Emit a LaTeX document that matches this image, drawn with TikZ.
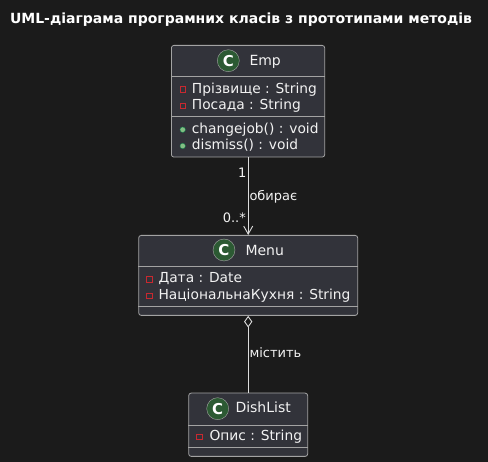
\documentclass[tikz,border=0pt]{standalone}
\usepackage{fontspec}
\setmainfont{DejaVu Sans}
\usetikzlibrary{arrows.meta}
\definecolor{bgc}{HTML}{1B1B1B}
\definecolor{boxfill}{HTML}{32333A}
\definecolor{boxline}{HTML}{A3A3A3}
\definecolor{txtc}{HTML}{F2F2F2}
\definecolor{linec}{HTML}{DDDDDD}
\definecolor{cgreen}{HTML}{2C5A33}
\definecolor{privred}{HTML}{C82930}
\definecolor{pubgreen}{HTML}{84BE84}
\definecolor{pubgreenline}{HTML}{038048}
\tikzset{
  classbox/.style={draw=boxline, fill=boxfill, rounded corners=2.5pt, line width=0.8pt, inner sep=0pt, anchor=north west},
  sepline/.style={draw=boxline, line width=0.8pt},
  txt/.style={text=txtc, inner sep=0pt, font=\fontsize{13.8}{16}\selectfont, anchor=base west},
  cname/.style={text=txtc, inner sep=0pt, font=\fontsize{14}{16}\selectfont, anchor=base west},
  lbl/.style={text=txtc, inner sep=0pt, font=\fontsize{13}{15}\selectfont},
  cicon/.style={circle, fill=cgreen, draw=boxline, line width=0.4pt, minimum size=22pt, inner sep=0pt, text=white, font=\fontsize{15}{15}\selectfont\bfseries},
  privicon/.style={rectangle, draw=privred, line width=0.8pt, minimum size=5.5pt, inner sep=0pt},
  pubicon/.style={circle, fill=pubgreen, draw=pubgreenline, line width=0.3pt, minimum size=5.5pt, inner sep=0pt},
  conn/.style={draw=linec, line width=0.9pt},
}
\begin{document}
\begin{tikzpicture}[x=1pt,y=-1pt]
\fill[bgc] (0,0) rectangle (488,462);
\useasboundingbox (0,0) rectangle (488,462);
% title
\node[text=white, inner sep=0pt, font=\fontsize{14}{16}\selectfont\bfseries, anchor=base] (title) at (241,23.3) {UML-діаграма програмних класів з прототипами методів};
% Emp
\node[classbox, minimum width=153.3pt, minimum height=111.7pt] (emp) at (171,45) {};
\draw[sepline] (emp.west |- 0,76) -- (emp.east |- 0,76);
\draw[sepline] (emp.west |- 0,116) -- (emp.east |- 0,116);
\node[cicon] (empc) at (228.3,60.7) {C};
\node[cname] (empn) at (249.3,66) {Emp};
\node[privicon] (empi1) at (182.7,89.3) {};
\node[txt] (empa1) at (191.7,93.5) {Прізвище : String};
\node[privicon] (empi2) at (182.7,105.8) {};
\node[txt] (empa2) at (191.7,110) {Посада : String};
\node[pubicon] (empi3) at (182.7,129.7) {};
\node[txt] (empm1) at (191.7,133.7) {changejob() : void};
\node[pubicon] (empi4) at (182.7,146) {};
\node[txt] (empm2) at (191.7,150) {dismiss() : void};
% Menu
\node[classbox, minimum width=219pt, minimum height=80pt] (menu) at (138.3,235) {};
\draw[sepline] (menu.west |- 0,266) -- (menu.east |- 0,266);
\draw[sepline] (menu.west |- 0,306.7) -- (menu.east |- 0,306.7);
\node[cicon] (menuc) at (224,250) {C};
\node[cname] (menun) at (245.3,255.3) {Menu};
\node[privicon] (menui1) at (149.3,279.3) {};
\node[txt] (menua1) at (158.3,283) {Дата : Date};
\node[privicon] (menui2) at (149.3,295.8) {};
\node[txt] (menua2) at (158.3,299.5) {НаціональнаКухня : String};
% DishList
\node[classbox, minimum width=119pt, minimum height=63.3pt] (dish) at (188.3,392.7) {};
\draw[sepline] (dish.west |- 0,425) -- (dish.east |- 0,425);
\draw[sepline] (dish.west |- 0,447.7) -- (dish.east |- 0,447.7);
\node[cicon] (dishc) at (217.7,408.7) {C};
\node[cname] (dishn) at (235.3,412.7) {DishList};
\node[privicon] (dishi1) at (199.3,436.8) {};
\node[txt] (disha1) at (209.3,440.7) {Опис : String};
% connectors
\draw[conn, -{Straight Barb[length=8pt,width=9pt]}] (emp.south -| menu.north) -- (menu.north);
\node[lbl, anchor=base east] (l1) at (246.7,178) {1};
\node[lbl, anchor=base west] (l2) at (249.3,201) {обирає};
\node[lbl, anchor=base east] (l3) at (246,222.7) {0..*};
\draw[conn, {Diamond[length=11.7pt,width=8.3pt,fill=bgc]}-] (menu.south) -- (dish.north);
\node[lbl, anchor=base west] (l4) at (249.3,357.3) {містить};
\end{tikzpicture}
\end{document}
